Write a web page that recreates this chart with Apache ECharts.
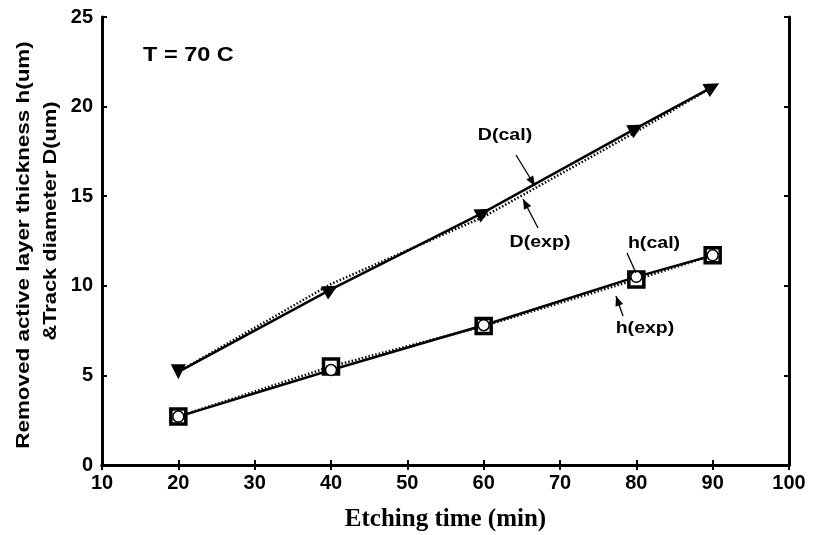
<!DOCTYPE html>
<html>
<head>
<meta charset="utf-8">
<script src="https://cdn.jsdelivr.net/npm/echarts@6/dist/echarts.min.js"></script>
<style>html,body{margin:0;padding:0;background:#fff;}#c{width:814px;height:535px;}</style>
</head>
<body>
<div id="c"></div>
<script>
// Data
var etchTime = [20, 40, 60, 80, 90];
var dCal = [5.2, 9.8, 14.1, 18.8, 21.1];
var dExp = [5.2, 10.1, 13.85, 18.6, 21.1];
var hCal = [2.7, 5.3, 7.8, 10.5, 11.7];
var hExp = [2.7, 5.5, 7.75, 10.35, 11.7];
var xTicks = [10, 20, 30, 40, 50, 60, 70, 80, 90, 100];
var yTicks = [0, 5, 10, 15, 20, 25];

function pairs(ys) { return etchTime.map(function (x, i) { return [x, ys[i]]; }); }
function triItems(ys) {
  return etchTime.map(function (x, i) {
    return { value: [x, ys[i]], symbolRotate: i === 0 ? 180 : -61 };
  });
}

var chart = echarts.init(document.getElementById('c'));
var sans = 'Liberation Sans, Arial, sans-serif';
var axisLine = { show: true, lineStyle: { color: '#000', width: 3 } };
var tickIn = { show: true, inside: true, length: 5, lineStyle: { color: '#000', width: 2 } };

function arrow(x1, y1, x2, y2, head) {
  var els = [{ type: 'line', shape: { x1: x1, y1: y1, x2: x2, y2: y2 }, style: { stroke: '#000', lineWidth: 1.3 }, z: 100 }];
  if (head) {
    var a = Math.atan2(y2 - y1, x2 - x1), L = 10, W = 4;
    var bx = x2 - L * Math.cos(a), by = y2 - L * Math.sin(a);
    els.push({ type: 'polygon', shape: { points: [[x2, y2], [bx + W * Math.sin(a), by - W * Math.cos(a)], [bx - W * Math.sin(a), by + W * Math.cos(a)]] }, style: { fill: '#000' }, z: 100 });
  }
  return els;
}
function label(txt, x, y, size) {
  return { type: 'text', x: x, y: y, z: 100, scaleX: 1.15, style: { text: txt, font: 'bold ' + size + 'px ' + sans, fill: '#000', textAlign: 'center', textVerticalAlign: 'middle' } };
}

var graphics = [
  { type: 'text', x: 143, y: 55, z: 100, scaleX: 1.12, style: { text: 'T = 70 C', font: 'bold 21px ' + sans, fill: '#000', textVerticalAlign: 'middle' } },
  label('D(cal)', 505, 135, 17),
  label('D(exp)', 540, 242, 17),
  label('h(cal)', 654, 243, 17),
  label('h(exp)', 645, 328, 17),
  { type: 'text', x: 24, y: 245, rotation: Math.PI / 2, z: 100, scaleX: 1.18,
    style: { text: 'Removed active layer thickness h(um)', font: 'bold 19px ' + sans, fill: '#000', textAlign: 'center', textVerticalAlign: 'middle' } },
  { type: 'text', x: 51, y: 221, rotation: Math.PI / 2, z: 100, scaleX: 1.15,
    style: { text: '&Track diameter D(um)', font: 'bold 19px ' + sans, fill: '#000', textAlign: 'center', textVerticalAlign: 'middle' } }
].concat(arrow(516, 155, 535, 186, true))
 .concat(arrow(538, 228, 523, 199, true))
 .concat(arrow(627, 253, 636, 273, false))
 .concat(arrow(623, 316, 616, 296, true));

chart.setOption({
  animation: false,
  backgroundColor: '#fff',
  grid: { left: 102, right: 25, top: 17, bottom: 70, containLabel: false, outerBoundsMode: 'none' },
  xAxis: [
    { type: 'value', min: 10, max: 100, interval: 10, position: 'bottom',
      name: 'Etching time (min)', nameLocation: 'middle', nameGap: 42,
      nameTextStyle: { fontFamily: 'Liberation Serif, Times New Roman, serif', fontWeight: 'bold', fontSize: 25, color: '#000' },
      axisLine: axisLine, axisTick: tickIn, splitLine: { show: false },
      axisLabel: { color: '#000', fontFamily: sans, fontWeight: 'bold', fontSize: 20, margin: 8,
        formatter: function (v) { return xTicks.indexOf(v) >= 0 ? String(v) : ''; } } },
    { type: 'value', min: 10, max: 100, interval: 10, position: 'top',
      axisLine: axisLine, axisTick: tickIn, axisLabel: { show: false }, splitLine: { show: false } }
  ],
  yAxis: [
    { type: 'value', min: 0, max: 25, interval: 5, position: 'left',
      axisLine: axisLine, axisTick: tickIn, splitLine: { show: false },
      axisLabel: { color: '#000', fontFamily: sans, fontWeight: 'bold', fontSize: 20, margin: 9,
        formatter: function (v) { return yTicks.indexOf(v) >= 0 ? String(v) : ''; } } },
    { type: 'value', min: 0, max: 25, interval: 5, position: 'right',
      axisLine: axisLine, axisTick: tickIn, axisLabel: { show: false }, splitLine: { show: false } }
  ],
  series: [
    { name: 'D(exp)', type: 'line', data: pairs(dExp), symbol: 'none',
      lineStyle: { color: '#000', width: 2.5, type: [1.5, 2] }, z: 2 },
    { name: 'D(cal)', type: 'line', data: triItems(dCal), symbol: 'triangle', symbolSize: 15,
      itemStyle: { color: '#000' }, lineStyle: { color: '#000', width: 2.5 }, z: 3 },
    { name: 'h(exp)', type: 'line', data: pairs(hExp), symbol: 'rect', symbolSize: 15,
      itemStyle: { color: '#fff', borderColor: '#000', borderWidth: 3.5 },
      lineStyle: { color: '#000', width: 2.5, type: [1.5, 2] }, z: 2 },
    { name: 'h(cal)', type: 'line', data: pairs(hCal), symbol: 'circle', symbolSize: 11,
      itemStyle: { color: '#fff', borderColor: '#000', borderWidth: 1.5 },
      lineStyle: { color: '#000', width: 2.5 }, z: 4 }
  ],
  graphic: graphics
});
</script>
</body>
</html>
